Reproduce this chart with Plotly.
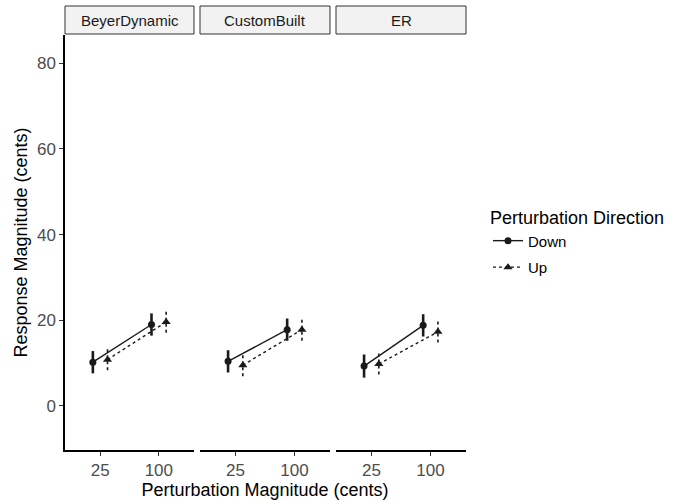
import plotly.graph_objects as go

# ---- data ----
headphones = ["BeyerDynamic", "CustomBuilt", "ER"]
magnitudes = ["25", "100"]
directions = ["Down", "Up"]

down_mean = {"BeyerDynamic": [10.2, 19.0], "CustomBuilt": [10.4, 17.8], "ER": [9.3, 18.8]}
down_se = {"BeyerDynamic": [2.6, 2.6], "CustomBuilt": [2.6, 2.6], "ER": [2.7, 2.6]}
up_mean = {"BeyerDynamic": [10.8, 19.6], "CustomBuilt": [9.5, 17.8], "ER": [9.8, 17.3]}
up_se = {"BeyerDynamic": [2.5, 2.5], "CustomBuilt": [2.6, 2.6], "ER": [2.5, 2.5]}

# ---- layout constants ----
W, H = 678, 500
ML, MR, MT, MB = 65, 212, 35, 50
plot_w = W - ML - MR
plot_h = H - MT - MB
panels_px = [(65, 194), (200, 330), (336, 466)]
domains = [((a - ML) / plot_w, (b - ML) / plot_w) for a, b in panels_px]
dodge = {"Down": -0.125, "Up": 0.125}
ink = "#1a1a1a"
font_family = "Liberation Sans, Arial, Helvetica, sans-serif"

fig = go.Figure()

series = {
    "Down": (down_mean, down_se, "solid", "circle", 7, 2.6),
    "Up": (up_mean, up_se, "3px,3px", "triangle-up", 8, 1.6),
}

for i, hp in enumerate(headphones):
    xa = "x" if i == 0 else f"x{i+1}"
    ya = "y" if i == 0 else f"y{i+1}"
    for d in directions:
        mean, se, dash, sym, msize, ebw = series[d]
        xs = [k + 1 + dodge[d] for k in range(len(magnitudes))]
        ys = mean[hp]
        # error bars as vertical segments
        ex, ey = [], []
        for x, m, s in zip(xs, ys, se[hp]):
            ex += [x, x, None]
            ey += [m - s, m + s, None]
        fig.add_trace(go.Scatter(
            x=ex, y=ey, mode="lines", xaxis=xa, yaxis=ya,
            line=dict(color=ink, width=ebw, dash=dash),
            showlegend=False, hoverinfo="skip"))
        fig.add_trace(go.Scatter(
            x=xs, y=ys, mode="lines+markers", xaxis=xa, yaxis=ya,
            name=d, legendgroup=d, showlegend=(i == 0),
            line=dict(color=ink, width=1.4, dash=dash),
            marker=dict(symbol=sym, size=msize, color=ink)))

tickfont = dict(family=font_family, size=17, color="#4d4d4d")
layout = dict(
    width=W, height=H,
    margin=dict(l=ML, r=MR, t=MT, b=MB, autoexpand=False),
    paper_bgcolor="white", plot_bgcolor="white",
    font=dict(family=font_family, color="black"),
    legend=dict(
        x=(488 - ML) / plot_w, y=(450 - 201) / plot_h, xanchor="left", yanchor="top",
        title=dict(text="Perturbation Direction", font=dict(size=18, family=font_family)),
        font=dict(size=15, family=font_family), tracegroupgap=4, itemwidth=30),
    showlegend=True,
)
for i in range(3):
    xk = "xaxis" if i == 0 else f"xaxis{i+1}"
    yk = "yaxis" if i == 0 else f"yaxis{i+1}"
    layout[xk] = dict(
        domain=list(domains[i]), anchor="y" if i == 0 else f"y{i+1}",
        range=[0.4, 2.6], tickvals=[1, 2], ticktext=magnitudes,
        showline=True, linecolor="black", linewidth=1.5,
        ticks="outside", ticklen=4, tickcolor="#333", tickwidth=1,
        showgrid=False, zeroline=False, tickfont=tickfont, automargin=False)
    layout[yk] = dict(
        domain=[0, 1], anchor="x" if i == 0 else f"x{i+1}",
        range=[-10.3, 86.6], tickvals=[0, 20, 40, 60, 80],
        showgrid=False, zeroline=False,
        showline=(i == 0), linecolor="black", linewidth=1.5,
        ticks="outside" if i == 0 else "", ticklen=4, tickcolor="#333",
        showticklabels=(i == 0), tickfont=tickfont, automargin=False)
layout["xaxis2"]["title"] = dict(text="Perturbation Magnitude (cents)",
                                 font=dict(size=18, family=font_family), standoff=1)
layout["yaxis"]["title"] = dict(text="Response Magnitude (cents)",
                                font=dict(size=18, family=font_family), standoff=5)
fig.update_layout(**layout)

# strips
for i, hp in enumerate(headphones):
    x0, x1 = domains[i]
    fig.add_shape(type="rect", xref="paper", yref="paper",
                  x0=x0, x1=x1, y0=1 + 1 / plot_h, y1=1 + 29 / plot_h,
                  fillcolor="#f2f2f2", line=dict(color="#333", width=1))
    fig.add_annotation(text=hp, xref="paper", yref="paper",
                       x=(x0 + x1) / 2, y=1 + 15 / plot_h, showarrow=False,
                       xanchor="center", yanchor="middle",
                       font=dict(size=15, family=font_family, color="#1a1a1a"))

fig.write_html("out.html", config={"displayModeBar": False})

# remove default page margin so the figure fills the window like the reference
with open("out.html", encoding="utf-8") as f:
    html = f.read()
html = html.replace("<body>", "<body style=\"margin:0;overflow:hidden\">", 1)
with open("out.html", "w", encoding="utf-8") as f:
    f.write(html)
